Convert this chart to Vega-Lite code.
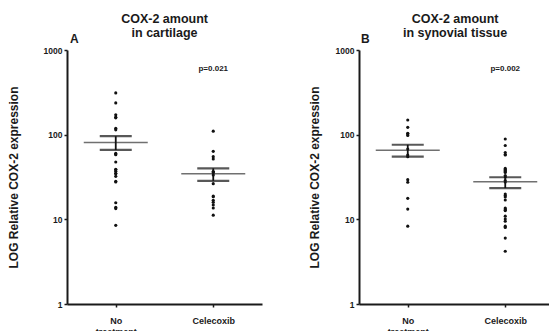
{
  "$schema": "https://vega.github.io/schema/vega-lite/v6.json",
  "background": "white",
  "padding": {"left": 7, "top": 12, "right": 0, "bottom": 0},
  "config": {
    "font": "Liberation Sans",
    "view": {"stroke": null},
    "title": {"font": "Liberation Sans", "fontWeight": "bold", "color": "#1a1a1a"},
    "axis": {
      "domainColor": "#1a1a1a", "domainWidth": 2, "tickColor": "#1a1a1a", "tickWidth": 1.5, "tickSize": 3,
      "labelFont": "Liberation Sans", "labelFontWeight": "bold", "labelColor": "#1a1a1a", "labelFontSize": 8.5,
      "titleFont": "Liberation Sans", "titleFontWeight": "bold", "titleColor": "#1a1a1a", "grid": false
    }
  },
  "datasets": {
    "cartilage": [
      {"group": "No treatment", "value": 311}, {"group": "No treatment", "value": 237},
      {"group": "No treatment", "value": 172}, {"group": "No treatment", "value": 161},
      {"group": "No treatment", "value": 158}, {"group": "No treatment", "value": 119},
      {"group": "No treatment", "value": 114}, {"group": "No treatment", "value": 60},
      {"group": "No treatment", "value": 59}, {"group": "No treatment", "value": 58},
      {"group": "No treatment", "value": 47.5}, {"group": "No treatment", "value": 39},
      {"group": "No treatment", "value": 38.5}, {"group": "No treatment", "value": 36.9},
      {"group": "No treatment", "value": 35}, {"group": "No treatment", "value": 34.5},
      {"group": "No treatment", "value": 32.2}, {"group": "No treatment", "value": 28.1},
      {"group": "No treatment", "value": 27.6}, {"group": "No treatment", "value": 15.7},
      {"group": "No treatment", "value": 13.9}, {"group": "No treatment", "value": 13.4},
      {"group": "No treatment", "value": 8.5},
      {"group": "Celecoxib", "value": 110}, {"group": "Celecoxib", "value": 63.6},
      {"group": "Celecoxib", "value": 55}, {"group": "Celecoxib", "value": 51.6},
      {"group": "Celecoxib", "value": 36.7}, {"group": "Celecoxib", "value": 36.2},
      {"group": "Celecoxib", "value": 35.3}, {"group": "Celecoxib", "value": 33.4},
      {"group": "Celecoxib", "value": 26.4}, {"group": "Celecoxib", "value": 18.8},
      {"group": "Celecoxib", "value": 18.5}, {"group": "Celecoxib", "value": 16.8},
      {"group": "Celecoxib", "value": 15.9}, {"group": "Celecoxib", "value": 14.8},
      {"group": "Celecoxib", "value": 13.6}, {"group": "Celecoxib", "value": 11.2}
    ],
    "cartilage_stats": [
      {"group": "No treatment", "mean": 81, "lo": 66, "hi": 96},
      {"group": "Celecoxib", "mean": 34.5, "lo": 28.5, "hi": 40}
    ],
    "cartilage_p": [{"group": "Celecoxib", "y": 600, "label": "p=0.021"}],
    "synovial": [
      {"group": "No treatment", "value": 149}, {"group": "No treatment", "value": 122},
      {"group": "No treatment", "value": 104}, {"group": "No treatment", "value": 102},
      {"group": "No treatment", "value": 98}, {"group": "No treatment", "value": 67.7},
      {"group": "No treatment", "value": 57.5}, {"group": "No treatment", "value": 55},
      {"group": "No treatment", "value": 29.4}, {"group": "No treatment", "value": 27.4},
      {"group": "No treatment", "value": 17.7}, {"group": "No treatment", "value": 13.2},
      {"group": "No treatment", "value": 8.3},
      {"group": "Celecoxib", "value": 88.9}, {"group": "Celecoxib", "value": 74.5},
      {"group": "Celecoxib", "value": 61.5}, {"group": "Celecoxib", "value": 58.3},
      {"group": "Celecoxib", "value": 57.5}, {"group": "Celecoxib", "value": 39.9},
      {"group": "Celecoxib", "value": 38.8}, {"group": "Celecoxib", "value": 37.7},
      {"group": "Celecoxib", "value": 36.7}, {"group": "Celecoxib", "value": 35.7},
      {"group": "Celecoxib", "value": 32.9}, {"group": "Celecoxib", "value": 31.6},
      {"group": "Celecoxib", "value": 28.6}, {"group": "Celecoxib", "value": 27.6},
      {"group": "Celecoxib", "value": 19.9}, {"group": "Celecoxib", "value": 19.1},
      {"group": "Celecoxib", "value": 18.4}, {"group": "Celecoxib", "value": 16.9},
      {"group": "Celecoxib", "value": 13.6}, {"group": "Celecoxib", "value": 13.2},
      {"group": "Celecoxib", "value": 12.9}, {"group": "Celecoxib", "value": 12.7},
      {"group": "Celecoxib", "value": 10.9}, {"group": "Celecoxib", "value": 10.1},
      {"group": "Celecoxib", "value": 9.5}, {"group": "Celecoxib", "value": 8.3},
      {"group": "Celecoxib", "value": 8.0}, {"group": "Celecoxib", "value": 6.0},
      {"group": "Celecoxib", "value": 4.2}
    ],
    "synovial_stats": [
      {"group": "No treatment", "mean": 65.5, "lo": 55, "hi": 76},
      {"group": "Celecoxib", "mean": 27.8, "lo": 23.4, "hi": 31.4}
    ],
    "synovial_p": [{"group": "Celecoxib", "y": 600, "label": "p=0.002"}]
  },
  "spacing": 46,
  "hconcat": [
    {
      "title": {"text": ["COX-2 amount", "in cartilage"], "anchor": "middle", "fontSize": 12.5, "lineHeight": 14, "dx": 30, "offset": -6},
      "vconcat": [
        {
          "title": {"text": "A", "anchor": "start", "frame": "group", "fontSize": 12, "offset": 0, "dx": 3},
          "width": 195, "height": 254,
          "encoding": {
            "x": {"field": "group", "type": "nominal", "sort": ["No treatment", "Celecoxib"],
                  "scale": {"type": "point", "padding": 0.5},
                  "axis": {"title": null, "labelAngle": 0, "labelFontSize": 9, "labelPadding": 9, "labelLineHeight": 11,
                           "labelExpr": "datum.label == 'No treatment' ? ['No', 'treatment'] : datum.label"}}
          },
          "layer": [
            {
              "data": {"name": "cartilage"},
              "mark": {"type": "circle", "size": 10, "color": "#111", "opacity": 1},
              "encoding": {
                "y": {"field": "value", "type": "quantitative",
                      "scale": {"type": "log", "domain": [1, 1000], "nice": false},
                      "axis": {"title": "LOG Relative COX-2 expression", "values": [1, 10, 100, 1000], "format": "d",
                               "titleFontSize": 12, "titlePadding": 23}}
              }
            },
            {
              "data": {"name": "cartilage_stats"},
              "mark": {"type": "tick", "size": 64, "thickness": 1.5, "color": "#333"},
              "encoding": {"y": {"field": "mean", "type": "quantitative"}}
            },
            {
              "data": {"name": "cartilage_stats"},
              "mark": {"type": "tick", "size": 32, "thickness": 2.2, "color": "#111"},
              "encoding": {"y": {"field": "hi", "type": "quantitative"}}
            },
            {
              "data": {"name": "cartilage_stats"},
              "mark": {"type": "tick", "size": 32, "thickness": 2.2, "color": "#111"},
              "encoding": {"y": {"field": "lo", "type": "quantitative"}}
            },
            {
              "data": {"name": "cartilage_stats"},
              "mark": {"type": "rule", "strokeWidth": 1.8, "color": "#111"},
              "encoding": {"y": {"field": "lo", "type": "quantitative"}, "y2": {"field": "hi"}}
            },
            {
              "data": {"name": "cartilage_p"},
              "mark": {"type": "text", "fontSize": 8, "fontWeight": "bold", "color": "#1a1a1a"},
              "encoding": {"y": {"field": "y", "type": "quantitative"}, "text": {"field": "label"}}
            }
          ]
        }
      ]
    },
    {
      "title": {"text": ["COX-2 amount", "in synovial tissue"], "anchor": "middle", "fontSize": 12.5, "lineHeight": 14, "dx": 24, "offset": -6},
      "vconcat": [
        {
          "title": {"text": "B", "anchor": "start", "frame": "group", "fontSize": 12, "offset": 0, "dx": 2},
          "width": 195, "height": 254,
          "encoding": {
            "x": {"field": "group", "type": "nominal", "sort": ["No treatment", "Celecoxib"],
                  "scale": {"type": "point", "padding": 0.5},
                  "axis": {"title": null, "labelAngle": 0, "labelFontSize": 9, "labelPadding": 9, "labelLineHeight": 11,
                           "labelExpr": "datum.label == 'No treatment' ? ['No', 'treatment'] : datum.label"}}
          },
          "layer": [
            {
              "data": {"name": "synovial"},
              "mark": {"type": "circle", "size": 10, "color": "#111", "opacity": 1},
              "encoding": {
                "y": {"field": "value", "type": "quantitative",
                      "scale": {"type": "log", "domain": [1, 1000], "nice": false},
                      "axis": {"title": "LOG Relative COX-2 expression", "values": [1, 10, 100, 1000], "format": "d",
                               "titleFontSize": 12, "titlePadding": 14}}
              }
            },
            {
              "data": {"name": "synovial_stats"},
              "mark": {"type": "tick", "size": 64, "thickness": 1.5, "color": "#333"},
              "encoding": {"y": {"field": "mean", "type": "quantitative"}}
            },
            {
              "data": {"name": "synovial_stats"},
              "mark": {"type": "tick", "size": 32, "thickness": 2.2, "color": "#111"},
              "encoding": {"y": {"field": "hi", "type": "quantitative"}}
            },
            {
              "data": {"name": "synovial_stats"},
              "mark": {"type": "tick", "size": 32, "thickness": 2.2, "color": "#111"},
              "encoding": {"y": {"field": "lo", "type": "quantitative"}}
            },
            {
              "data": {"name": "synovial_stats"},
              "mark": {"type": "rule", "strokeWidth": 1.8, "color": "#111"},
              "encoding": {"y": {"field": "lo", "type": "quantitative"}, "y2": {"field": "hi"}}
            },
            {
              "data": {"name": "synovial_p"},
              "mark": {"type": "text", "fontSize": 8, "fontWeight": "bold", "color": "#1a1a1a"},
              "encoding": {"y": {"field": "y", "type": "quantitative"}, "text": {"field": "label"}}
            }
          ]
        }
      ]
    }
  ]
}
